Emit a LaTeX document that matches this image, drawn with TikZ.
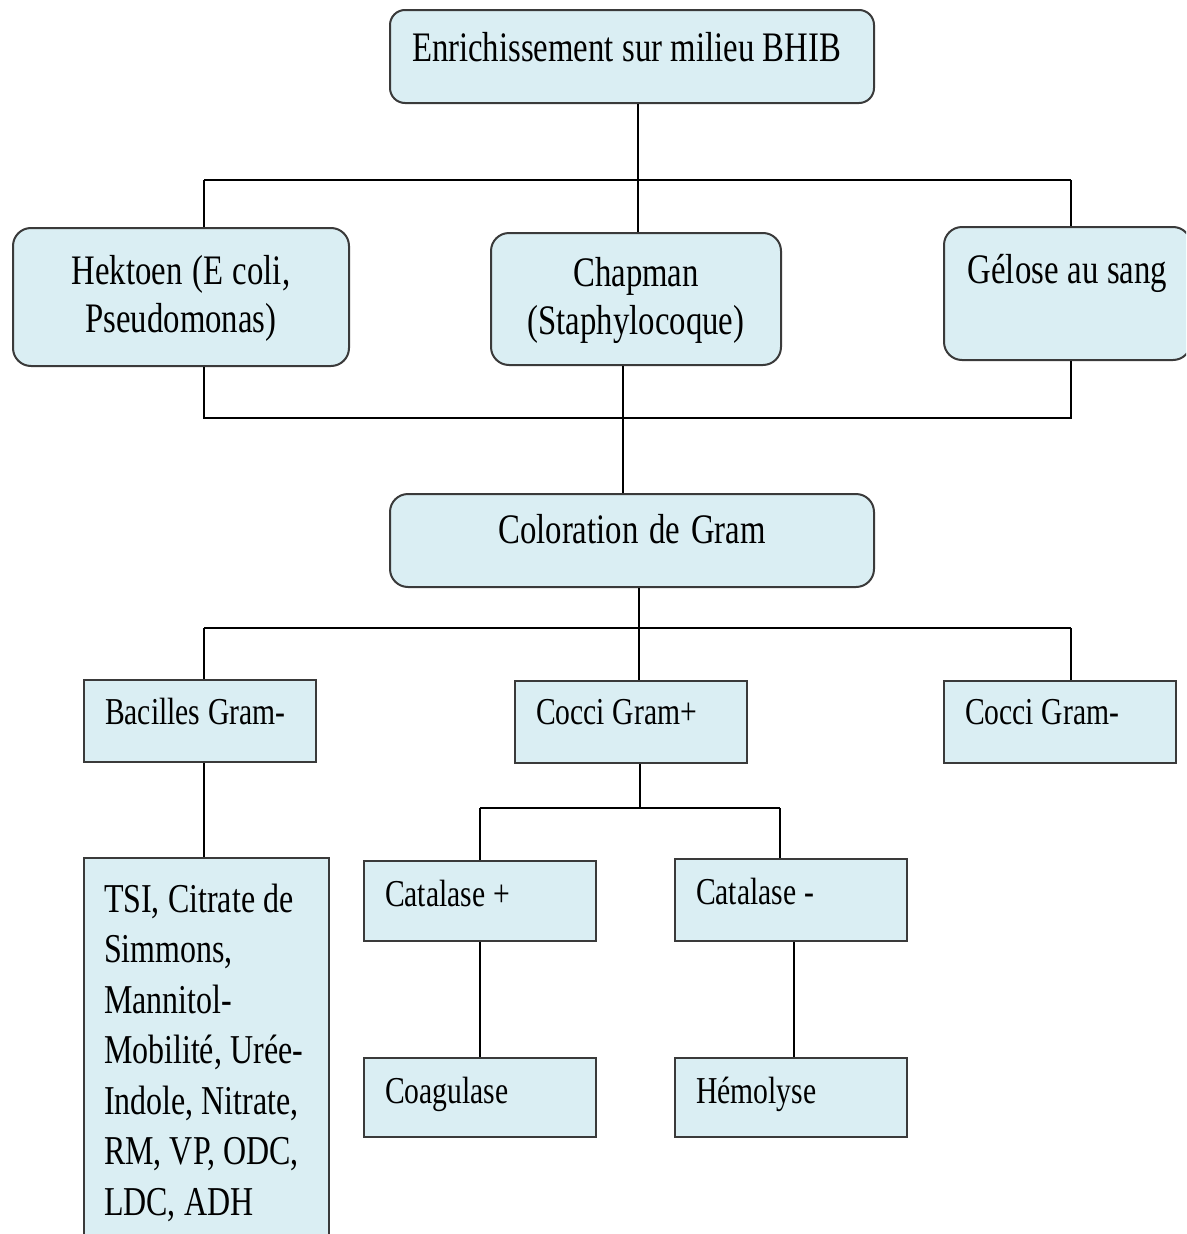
\documentclass[tikz,border=0pt]{standalone}
\usepackage{fontspec}
\setmainfont[FakeStretch=0.78]{Liberation Serif}
\usepackage{tikz}
\usetikzlibrary{positioning,calc}
\definecolor{paleCyan}{HTML}{DAEEF3}
\definecolor{edge}{HTML}{3A3A3A}
\newcommand\mediumfont{\fontsize{42}{48}\selectfont}
\newcommand\resultfont{\fontsize{38}{50}\selectfont}
\newcommand\testsfont{\fontsize{41}{50.5}\selectfont}
\newcommand\narrowspace{\spaceskip=0.2em plus 0.05em\relax}
\tikzset{
  medium/.style={rectangle, rounded corners=18pt, draw=edge, line width=2pt, fill=paleCyan,
                 inner ysep=0pt, anchor=north west, font=\mediumfont,
                 execute at begin node=\narrowspace},
  result/.style={rectangle, draw=edge, line width=2pt, fill=paleCyan, align=left,
                 inner ysep=0pt, inner xsep=21pt, text width=190pt, anchor=north west,
                 font=\resultfont, execute at begin node=\narrowspace},
  link/.style={line width=2pt, draw=black}
}

\begin{document}
\begin{tikzpicture}[x=1pt, y=-1pt]
\useasboundingbox (0,0) rectangle (1186,1234);
\clip (0,0) rectangle (1186,1234);
% culture media
\node[medium, rounded corners=15pt, align=left, inner xsep=22pt, text width=440pt,
      text height=51pt, text depth=42pt] (enrich) at (389,9) {Enrichissement sur milieu BHIB};
\node[medium, align=center, inner xsep=10pt, text width=316pt,
      text height=56pt, text depth=82pt] (hektoen) at (12,227) {Hektoen (E coli,\\Pseudomonas)};
\node[medium, align=center, inner xsep=10pt, text width=270pt,
      text height=53pt, text depth=79pt] (chapman) at (490,232) {Chapman\\(Staphylocoque)};
\node[medium, align=center, inner xsep=10pt, text width=227pt,
      text height=56pt, text depth=77pt] (gelose) at (943,226) {Gélose au sang};
\node[medium, align=center, inner xsep=10pt, text width=464pt,
      text height=49pt, text depth=44pt] (gram) at (389,493) {Coloration de Gram};
% gram results
\node[result, text height=44pt, text depth=38pt] (bacilles) at (83,679) {Bacilles~Gram-};
\node[result, text height=43pt, text depth=39pt] (coccip) at (514,680) {Cocci~Gram+};
\node[result, text height=43pt, text depth=39pt] (coccim) at (943,680) {Cocci~Gram-};
\node[result, inner xsep=20pt, text width=205pt, font=\testsfont,
      text height=54pt, text depth=349pt] (tsi) at (83,857)
      {TSI,~Citrate~de\\Simmons,\\Mannitol-\\Mobilité,~Urée-\\Indole,~Nitrate,\\RM,~VP,~ODC,\\LDC,~ADH};
\node[result, text height=45pt, text depth=35pt] (catp) at (363,860) {Catalase~+};
\node[result, text height=45pt, text depth=37pt] (catm) at (674,858) {Catalase~-};
\node[result, text height=45pt, text depth=34pt] (coag) at (363,1057) {Coagulase};
\node[result, text height=45pt, text depth=34pt] (hemo) at (674,1057) {Hémolyse};
% junctions
\coordinate (t1) at (638,180);
\coordinate (tl) at (204,180);
\coordinate (tr) at (1071,180);
\coordinate (ml) at (204,418);
\coordinate (mr) at (1071,418);
\coordinate (m1) at (623,418);
\coordinate (g1) at (639,628);
\coordinate (gl) at (204,628);
\coordinate (gr) at (1071,628);
\coordinate (c1) at (640,808);
\coordinate (cl) at (480,808);
\coordinate (cr) at (780,808);
% tree
\draw[link] (enrich.south -| t1) -- (t1);
\draw[link] (tl) -- (tr);
\draw[link] (tl) -- (tl |- hektoen.north);
\draw[link] (t1) -- (t1 |- chapman.north);
\draw[link] (tr) -- (tr |- gelose.north);
\draw[link] (hektoen.south -| ml) -- (ml) -- (mr) -- (gelose.south -| mr);
\draw[link] (chapman.south -| m1) -- (m1 |- gram.north);
\draw[link] (gram.south -| g1) -- (g1);
\draw[link] (gl) -- (gr);
\draw[link] (gl) -- (gl |- bacilles.north);
\draw[link] (g1) -- (g1 |- coccip.north);
\draw[link] (gr) -- (gr |- coccim.north);
\draw[link] (bacilles.south -| gl) -- (gl |- tsi.north);
\draw[link] (coccip.south -| c1) -- (c1);
\draw[link] (cl) -- (cr);
\draw[link] (cl) -- (cl |- catp.north);
\draw[link] (cr) -- (cr |- catm.north);
\draw[link] (catp.south -| cl) -- (cl |- coag.north);
\draw[link] ([xshift=3pt]catm.south) -- ([xshift=3pt]catm.south |- hemo.north);
\end{tikzpicture}
\end{document}
